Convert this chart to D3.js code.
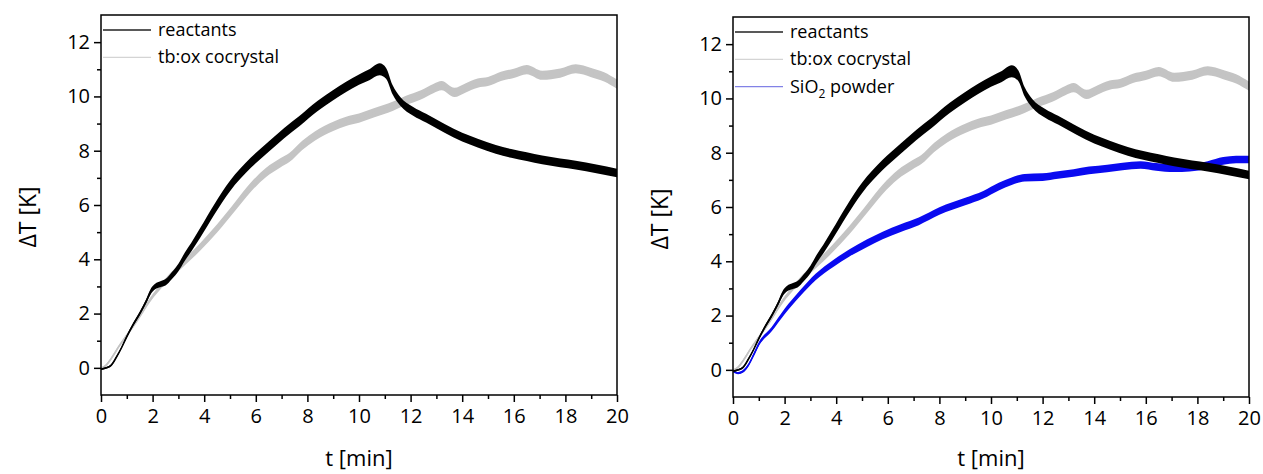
<!DOCTYPE html>
<html><head><meta charset="utf-8">
<script src="https://cdn.jsdelivr.net/npm/d3@7"></script>
<style>
body{margin:0;background:#fff}
svg text{font-family:"Open Sans",sans-serif;fill:#000}
</style>
</head><body>
<svg id="c" width="1263" height="474"></svg>
<script>
// ---- data ----
const reactantsT = [0, 0.2, 0.4, 0.6, 0.8, 1.0, 1.25, 1.5, 1.75, 1.95, 2.1, 2.3, 2.5, 2.75, 3.0, 3.25, 3.5, 3.85, 4.4, 5.0, 5.8, 6.5, 7.1, 7.7, 8.4, 9.0, 9.5, 10.0, 10.4, 10.8, 11.05, 11.3, 11.6, 12.1, 12.6, 13.3, 14.0, 14.6, 15.3, 15.9, 16.5, 17.1, 17.8, 18.4, 19.2, 20.0];
const reactantsV = [-0.05, 0.0, 0.1, 0.4, 0.75, 1.15, 1.6, 2.0, 2.45, 2.85, 3.0, 3.08, 3.15, 3.4, 3.7, 4.1, 4.45, 4.98, 5.85, 6.7, 7.55, 8.15, 8.65, 9.1, 9.65, 10.05, 10.35, 10.62, 10.8, 11.0, 10.85, 10.25, 9.82, 9.45, 9.2, 8.83, 8.5, 8.28, 8.05, 7.9, 7.78, 7.66, 7.55, 7.47, 7.33, 7.18];
const reactantsSpread = [0.03, 0.03, 0.03, 0.04, 0.04, 0.05, 0.06, 0.07, 0.08, 0.1, 0.1, 0.11, 0.12, 0.13, 0.14, 0.15, 0.16, 0.18, 0.19, 0.19, 0.19, 0.19, 0.19, 0.19, 0.19, 0.19, 0.19, 0.19, 0.2, 0.22, 0.2, 0.17, 0.16, 0.16, 0.16, 0.16, 0.16, 0.16, 0.16, 0.16, 0.16, 0.16, 0.16, 0.16, 0.16, 0.16];

const cocrystalT = [0, 0.2, 0.4, 0.7, 1.0, 1.4, 1.9, 2.5, 3.2, 3.85, 4.5, 5.2, 5.8, 6.4, 6.95, 7.3, 7.8, 8.3, 9.0, 9.5, 10.0, 10.6, 11.3, 11.8, 12.4, 12.9, 13.2, 13.7, 14.1, 14.6, 15.0, 15.5, 16.0, 16.5, 17.1, 17.8, 18.4, 19.0, 19.5, 20.0];
const cocrystalV = [-0.02, 0.1, 0.35, 0.8, 1.2, 1.75, 2.5, 3.2, 3.85, 4.46, 5.14, 5.95, 6.65, 7.2, 7.55, 7.75, 8.2, 8.55, 8.9, 9.08, 9.2, 9.4, 9.63, 9.85, 10.06, 10.3, 10.4, 10.15, 10.3, 10.49, 10.55, 10.74, 10.85, 10.99, 10.78, 10.86, 11.02, 10.88, 10.72, 10.45];
const cocrystalSpread = [0.04, 0.04, 0.05, 0.05, 0.06, 0.07, 0.08, 0.1, 0.12, 0.14, 0.15, 0.16, 0.17, 0.17, 0.17, 0.17, 0.17, 0.17, 0.17, 0.17, 0.17, 0.17, 0.17, 0.17, 0.17, 0.17, 0.17, 0.17, 0.17, 0.17, 0.17, 0.17, 0.17, 0.17, 0.17, 0.17, 0.17, 0.17, 0.17, 0.17];

const sio2T = [0, 0.2, 0.4, 0.6, 0.8, 1.0, 1.5, 2.0, 2.6, 3.2, 3.9, 4.5, 5.2, 5.8, 6.5, 7.2, 8.0, 9.0, 9.7, 10.3, 10.8, 11.3, 12.0, 12.6, 13.2, 13.8, 14.5, 15.1, 15.8, 16.4, 17.1, 17.7, 18.4, 19.0, 19.5, 20.0];
const sio2V = [-0.05, -0.12, -0.05, 0.18, 0.55, 0.95, 1.5, 2.15, 2.82, 3.42, 3.93, 4.3, 4.67, 4.95, 5.22, 5.47, 5.85, 6.2, 6.45, 6.75, 6.95, 7.08, 7.1, 7.18, 7.25, 7.35, 7.42, 7.49, 7.55, 7.48, 7.43, 7.45, 7.55, 7.7, 7.75, 7.75];
const sio2Spread = [0.04, 0.04, 0.05, 0.05, 0.06, 0.07, 0.08, 0.1, 0.11, 0.12, 0.13, 0.13, 0.14, 0.14, 0.14, 0.14, 0.14, 0.14, 0.14, 0.14, 0.14, 0.14, 0.14, 0.14, 0.14, 0.14, 0.14, 0.14, 0.14, 0.14, 0.14, 0.14, 0.14, 0.14, 0.14, 0.14];

const seriesNames = ["reactants", "tb:ox cocrystal", "SiO2 powder"];
const xTicks = [0, 2, 4, 6, 8, 10, 12, 14, 16, 18, 20];
const xMinorTicks = [1, 3, 5, 7, 9, 11, 13, 15, 17, 19];
const yTicks = [0, 2, 4, 6, 8, 10, 12];
const yMinorTicks = [1, 3, 5, 7, 9, 11];
const xTitle = "t [min]";
const yTitle = "\u0394T [K]";

// ---- build ----
const zip = (t, v, s) => t.map((d, i) => ({t: d, v: v[i], s: s[i]}));
const series = {
  reactants: {name: seriesNames[0], data: zip(reactantsT, reactantsV, reactantsSpread), color: "#000000", legend: "#222222"},
  cocrystal: {name: seriesNames[1], data: zip(cocrystalT, cocrystalV, cocrystalSpread), color: "#c4c4c4", legend: "#d4d4d4"},
  sio2: {name: seriesNames[2], data: zip(sio2T, sio2V, sio2Spread), color: "#0a0af0", legend: "#8282e6"}
};

const panels = [
  {left: 101, right: 617, top: 15, bottom: 395, draw: ["cocrystal", "reactants"], legend: ["reactants", "cocrystal"], yTitleX: 27},
  {left: 733, right: 1249, top: 17, bottom: 397, draw: ["cocrystal", "sio2", "reactants"], legend: ["reactants", "cocrystal", "sio2"], yTitleX: 659}
];

const svg = d3.select("#c");

panels.forEach(p => {
  const x = d3.scaleLinear().domain([0, 20]).range([p.left, p.right]);
  const y = d3.scaleLinear().domain([-1, 13]).range([p.bottom, p.top]);
  const g = svg.append("g");

  const clipId = "clip" + p.left;
  g.append("clipPath").attr("id", clipId).append("rect")
    .attr("x", p.left).attr("y", p.top).attr("width", p.right - p.left).attr("height", p.bottom - p.top);

  const plot = g.append("g").attr("clip-path", `url(#${clipId})`);
  p.draw.forEach(k => {
    const s = series[k];
    const area = d3.area().x(d => x(d.t)).y0(d => y(d.v - d.s)).y1(d => y(d.v + d.s)).curve(d3.curveMonotoneX);
    const line = d3.line().x(d => x(d.t)).y(d => y(d.v)).curve(d3.curveMonotoneX);
    plot.append("path").datum(s.data).attr("d", area).attr("fill", s.color).attr("stroke", "none");
    plot.append("path").datum(s.data).attr("d", line).attr("fill", "none").attr("stroke", s.color).attr("stroke-width", 1.6);
  });

  // axes
  const xAx = g.append("g").attr("transform", `translate(0,${p.bottom})`)
    .call(d3.axisBottom(x).tickValues(xTicks).tickSize(7).tickPadding(7).tickFormat(d3.format("d")));
  const xAxMin = g.append("g").attr("transform", `translate(0,${p.bottom})`)
    .call(d3.axisBottom(x).tickValues(xMinorTicks).tickSize(4).tickFormat(""));
  const yAx = g.append("g").attr("transform", `translate(${p.left},0)`)
    .call(d3.axisLeft(y).tickValues(yTicks).tickSize(7).tickPadding(4).tickFormat(d3.format("d")));
  const yAxMin = g.append("g").attr("transform", `translate(${p.left},0)`)
    .call(d3.axisLeft(y).tickValues(yMinorTicks).tickSize(4).tickFormat(""));
  [xAx, xAxMin, yAx, yAxMin].forEach(a => {
    a.select(".domain").remove();
    a.selectAll("line").attr("stroke", "#000").attr("stroke-width", 1.5);
    a.selectAll("text").attr("font-size", 20).attr("font-family", "'Open Sans', sans-serif").attr("fill", "#000");
  });

  g.append("rect").attr("x", p.left).attr("y", p.top)
    .attr("width", p.right - p.left).attr("height", p.bottom - p.top)
    .attr("fill", "none").attr("stroke", "#000").attr("stroke-width", 1.5);

  // titles
  g.append("text").attr("x", (p.left + p.right) / 2).attr("y", 466)
    .attr("text-anchor", "middle").attr("font-size", 22).text(xTitle);
  g.append("text").attr("transform", `translate(${p.yTitleX},${(p.top + p.bottom) / 2 + 12}) rotate(-90)`)
    .attr("text-anchor", "middle").attr("dominant-baseline", "central").attr("font-size", 23).text(yTitle);

  // legend
  p.legend.forEach((k, i) => {
    const s = series[k];
    const ly = p.top + 15 + i * 27.3;
    g.append("line").attr("x1", p.left + 2).attr("x2", p.left + 50).attr("y1", ly).attr("y2", ly)
      .attr("stroke", s.legend).attr("stroke-width", 1.3);
    const t = g.append("text").attr("x", p.left + 57).attr("y", ly + 6).attr("font-size", 18);
    if (k === "sio2") {
      t.append("tspan").text("SiO");
      t.append("tspan").attr("font-size", 12).attr("dy", 5).text("2");
      t.append("tspan").attr("dy", -5).text(" powder");
    } else {
      t.text(s.name);
    }
  });
});
</script>
</body></html>
